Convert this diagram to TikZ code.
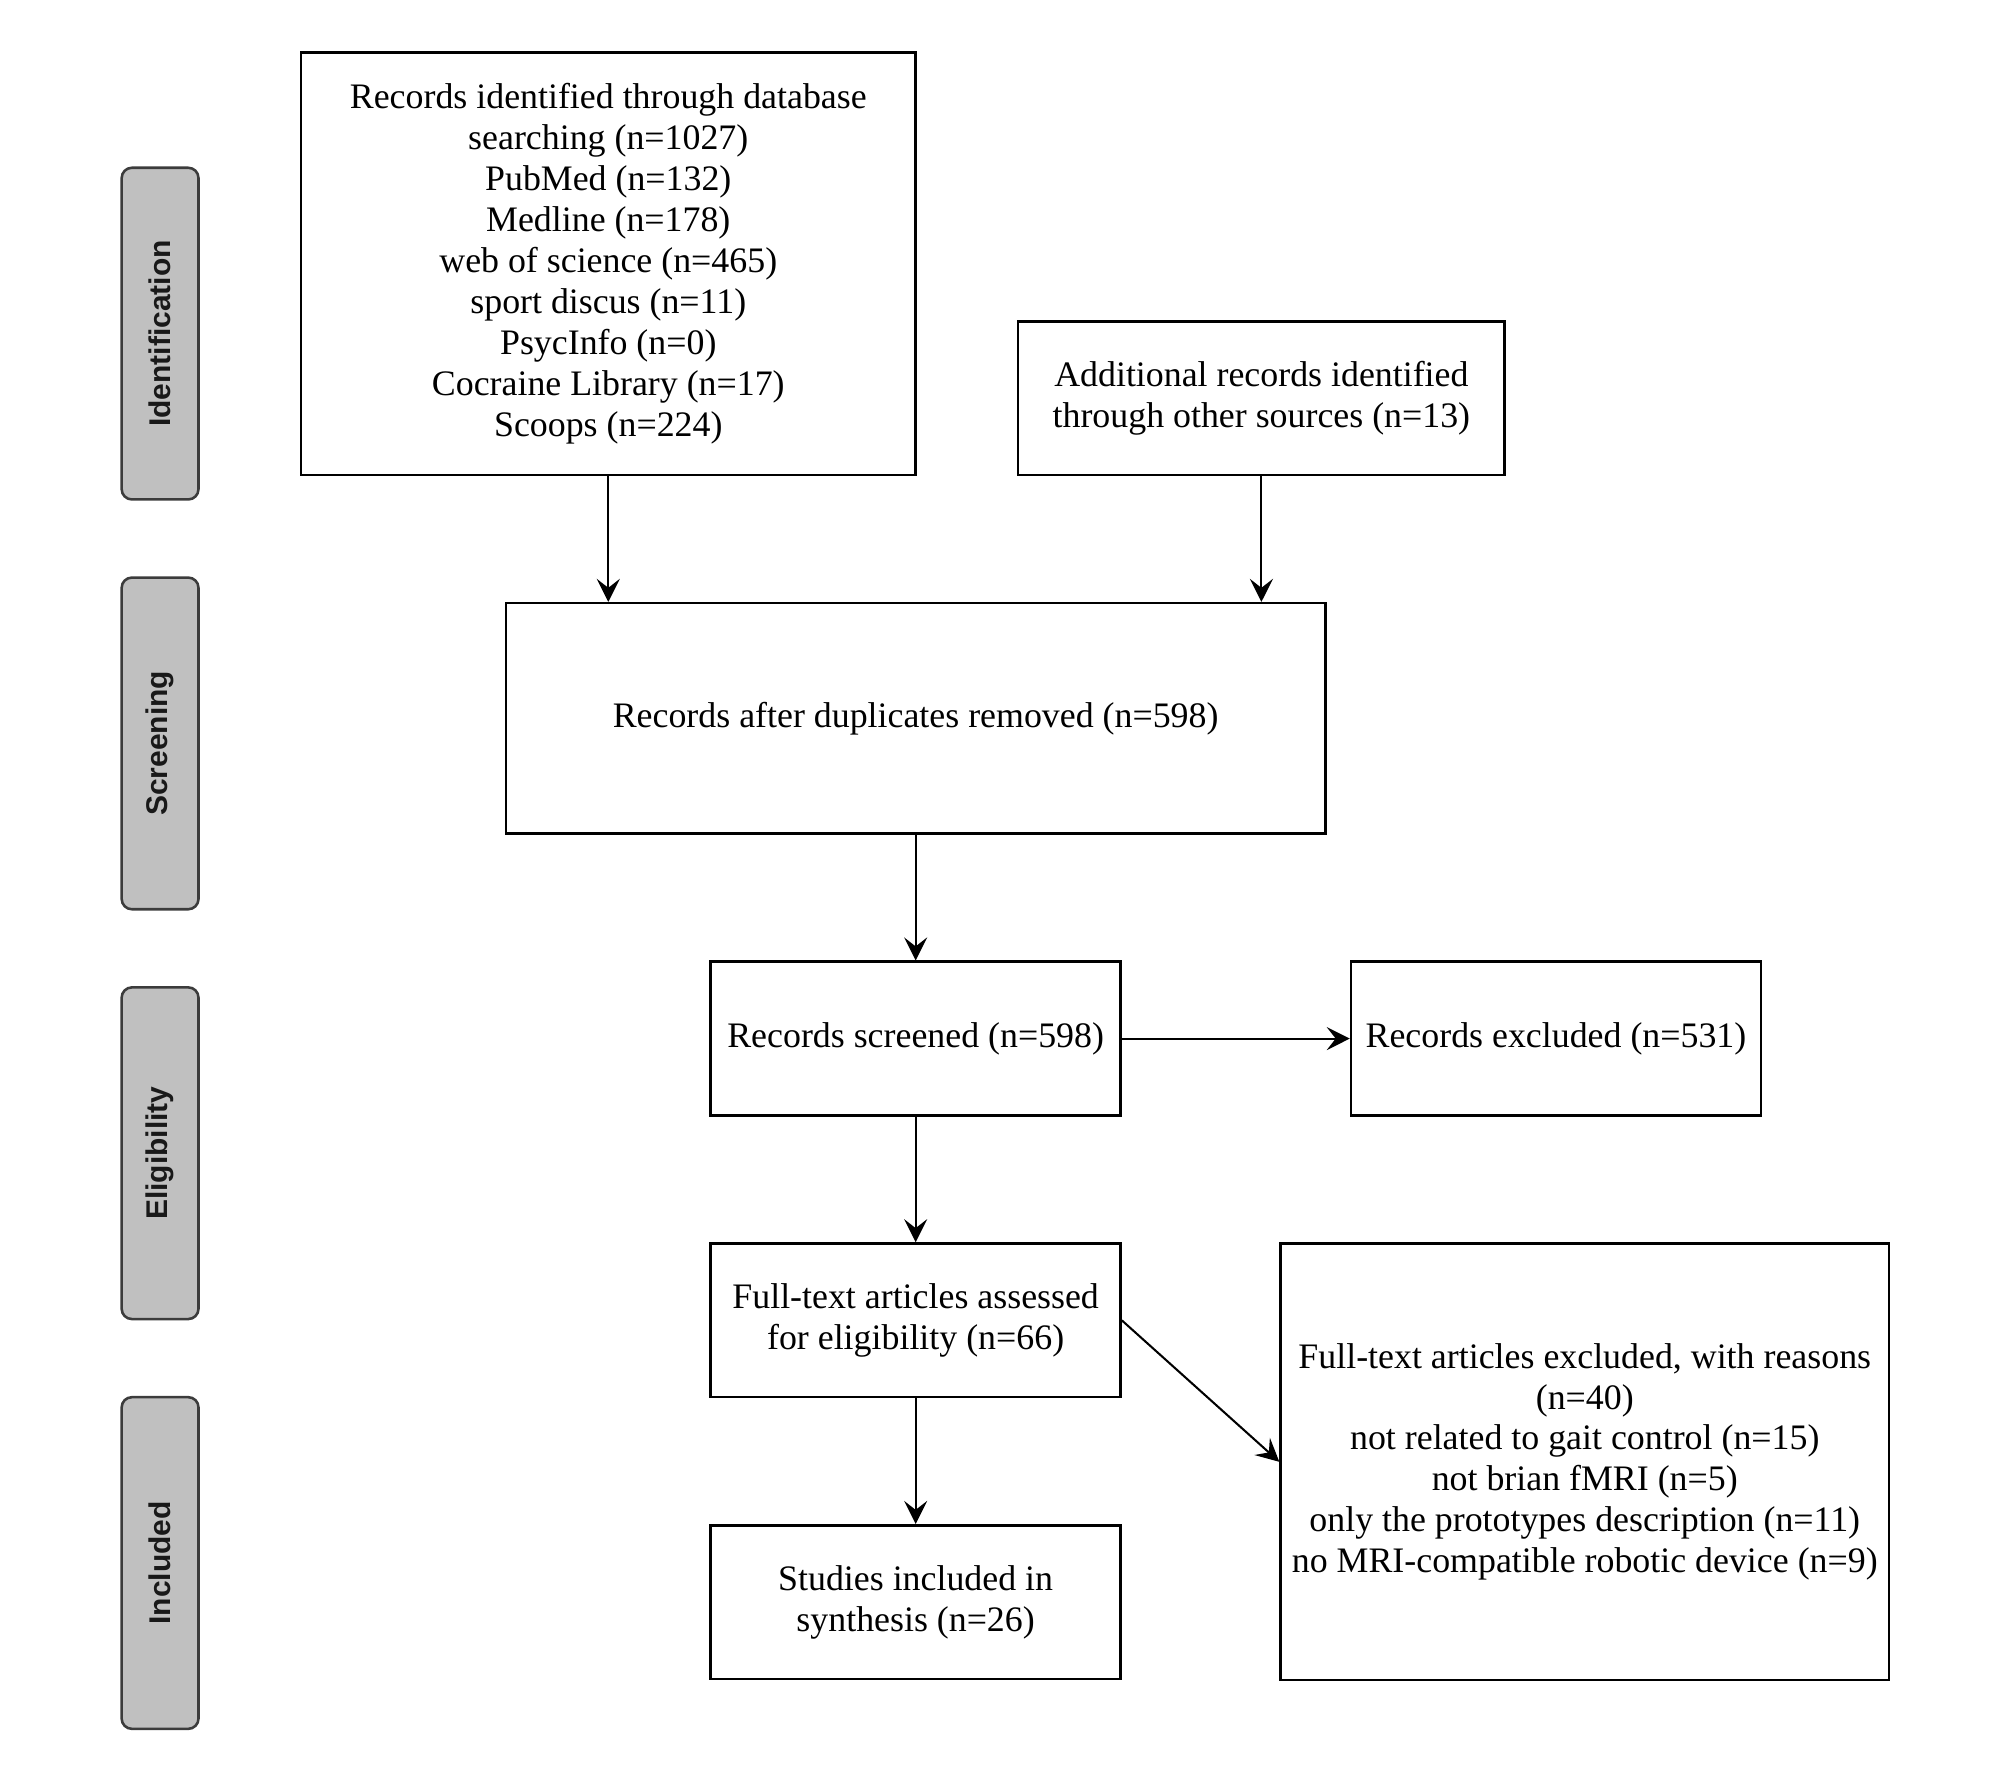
\documentclass[tikz,border=0pt]{standalone}
\usepackage{fontspec}
\setmainfont{Liberation Serif}
\newfontfamily\labfont{Liberation Sans}
\usetikzlibrary{arrows.meta}
\definecolor{pillgray}{RGB}{192,192,192}
\definecolor{pillline}{RGB}{60,60,60}
\begin{document}
\begin{tikzpicture}[x=0.5pt,y=-0.5pt,
  box/.style={draw, line width=1pt, align=center, inner sep=0pt,
    font=\fontsize{14}{16}\selectfont},
  pill/.style={draw=pillline, fill=pillgray, rounded corners=4pt, line width=1pt,
    rotate=90, minimum width=129.5pt, minimum height=30pt, inner sep=0pt,
    font=\labfont\bfseries\fontsize{11.7}{14}\selectfont, text=black!90},
  arr/.style={-{Stealth[length=9pt,width=9pt,inset=3.5pt]}, line width=0.8pt}]
\useasboundingbox (0,0) rectangle (1568,1388);

\node[pill] (p1) at (125,260.5) {Identification};
\node[pill] (p2) at (125,580.5) {Screening};
\node[pill] (p3) at (125,900.5) {Eligibility};
\node[pill] (p4) at (125,1220.5) {Included};

\node[box, minimum width=240pt, minimum height=165pt] (db) at (475,206)
  {Records identified through database\\searching (n=1027)\\PubMed (n=132)\\Medline (n=178)\\web of science (n=465)\\sport discus (n=11)\\PsycInfo (n=0)\\Cocraine Library (n=17)\\Scoops (n=224)};
\node[box, minimum width=190pt, minimum height=60pt] (oth) at (985,311)
  {Additional records identified\\through other sources (n=13)};
\node[box, minimum width=320pt, minimum height=90pt] (dup) at (715,561)
  {Records after duplicates removed (n=598)};
\node[box, minimum width=160pt, minimum height=60pt] (scr) at (715,811)
  {Records screened (n=598)};
\node[box, minimum width=160pt, minimum height=60pt] (exc) at (1215,811)
  {Records excluded (n=531)};
\node[box, minimum width=160pt, minimum height=60pt] (ft) at (715,1031)
  {Full-text articles assessed\\for eligibility (n=66)};
\node[box, minimum width=237.5pt, minimum height=170.5pt] (rea) at (1237.5,1141.5)
  {Full-text articles excluded, with reasons\\(n=40)\\not related to gait control (n=15)\\not brian fMRI (n=5)\\only the prototypes description (n=11)\\no MRI-compatible robotic device (n=9)};
\node[box, minimum width=160pt, minimum height=60pt] (inc) at (715,1251)
  {Studies included in\\synthesis (n=26)};

\draw[arr] (db.south) -- (db.south |- dup.north);
\draw[arr] (oth.south) -- (oth.south |- dup.north);
\draw[arr] (dup.south) -- (scr.north);
\draw[arr] (scr.east) -- (exc.west);
\draw[arr] (scr.south) -- (ft.north);
\draw[arr] (ft.east) -- (rea.west);
\draw[arr] (ft.south) -- (inc.north);
\end{tikzpicture}
\end{document}
